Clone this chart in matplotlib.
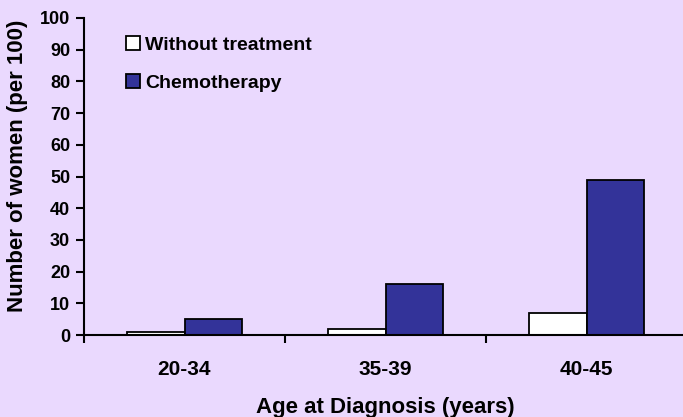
import matplotlib.pyplot as plt
import numpy as np

plt.rcParams['font.family'] = ['Liberation Sans', 'DejaVu Sans']
plt.rcParams['font.weight'] = 'bold'

ages = ['20-34', '35-39', '40-45']
without_treatment = [1, 2, 7]
chemotherapy = [5, 16, 49]
yticks = list(range(0, 101, 10))

bg = '#EAD9FE'
fig = plt.figure(figsize=(6.83, 4.17), dpi=100, facecolor=bg)
ax = fig.add_axes([84/683, 82/417, 603/683, 317/417], facecolor=bg)

x = np.arange(len(ages))
w = 0.285
ax.bar(x - w/2, without_treatment, w, color='white', edgecolor='black', linewidth=1.3, label='Without treatment')
ax.bar(x + w/2, chemotherapy, w, color='#333399', edgecolor='black', linewidth=1.3, label='Chemotherapy')

ax.set_xlim(-0.5, len(ages) - 0.5)
ax.set_ylim(0, 100)
ax.set_yticks(yticks)
ax.set_xticks(x)
ax.set_xticklabels(ages, fontsize=15, fontweight='bold')
ax.set_xticks(np.arange(len(ages)) - 0.5, minor=True)
ax.tick_params(axis='x', which='major', length=0, pad=18)
ax.tick_params(axis='x', which='minor', length=6, width=1.5, direction='out')
ax.tick_params(axis='y', length=6, width=1.5, direction='out', pad=4, labelsize=13)
for t in ax.get_yticklabels():
    t.set_fontweight('bold')

for s in ['top', 'right']:
    ax.spines[s].set_visible(False)
for s in ['left', 'bottom']:
    ax.spines[s].set_linewidth(1.5)

ax.set_xlabel('Age at Diagnosis (years)', fontsize=16, fontweight='bold', va='center')
ax.xaxis.set_label_coords(0.5, (335 - 408) / 317)
ax.set_ylabel('Number of women (per 100)', fontsize=16, fontweight='bold', va='center')
ax.yaxis.set_label_coords((18 - 84) / 603, 0.533)

ax.legend(loc='upper left', bbox_to_anchor=(126/683, 1 - 36/417), bbox_transform=fig.transFigure,
          frameon=False, fontsize=14, handlelength=0.7, handleheight=0.7,
          handletextpad=0.3, labelspacing=1.05, borderpad=0, borderaxespad=0)

fig.savefig('out.png', dpi=100, facecolor=bg)
